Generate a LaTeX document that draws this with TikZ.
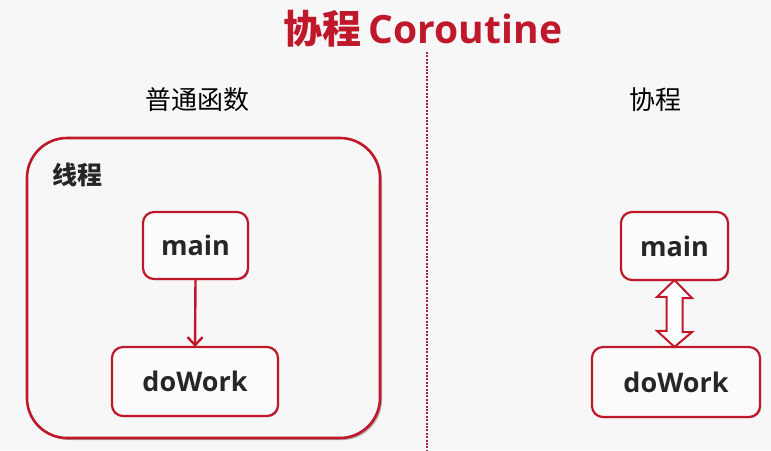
\documentclass[tikz,border=0pt]{standalone}
\usepackage{fontspec}
\newfontfamily\cjk{Noto Sans CJK SC}
\newfontfamily\lat{Open Sans}
\usetikzlibrary{shadows,arrows.meta}
\definecolor{bg}{HTML}{F7F7F7}
\definecolor{myred}{HTML}{C0182B}
\definecolor{dotred}{HTML}{A02336}
\definecolor{ink}{HTML}{262626}
\tikzset{
  box/.style={draw=myred, line width=2.2pt, fill=white!60!bg, rounded corners=11pt,
    inner sep=0pt, font=\lat\bfseries\fontsize{27}{30}\selectfont, text=ink,
    drop shadow={shadow xshift=1.2pt, shadow yshift=-1.2pt, opacity=0.3, fill=black}},
  bigbox/.style={draw=myred, line width=2.6pt, fill=bg, rounded corners=40pt, inner sep=0pt,
    drop shadow={shadow xshift=2pt, shadow yshift=-2pt, opacity=0.3, fill=black}},
  subtitle/.style={font=\cjk\fontsize{26}{30}\selectfont, text=black},
  ttl/.style={font=\bfseries\fontsize{39}{44}\selectfont, text=myred},
  divider/.style={draw=dotred, line width=2.5pt, dash pattern=on 2pt off 1.4pt}
}
\begin{document}
\begin{tikzpicture}[x=1pt,y=-1pt]
\useasboundingbox[fill=bg] (0,0) rectangle (771,450);
\node[ttl] (title) at (423,29) {{\cjk 协程}\hspace{7pt}{\lat Coroutine}};
\coordinate (dtop) at (427,52);
\coordinate (dbot) at (427,452);
\draw[divider] (dtop) -- (dbot);
\node[subtitle] (s1) at (197,100) {普通函数};
\node[subtitle] (s2) at (655,100) {协程};
% left
\node[bigbox, minimum width=353pt, minimum height=300pt] (thread) at (203.5,288) {};
\node[font=\cjk\bfseries\fontsize{25}{28}\selectfont, text=ink, anchor=west] (tl) at (49,175) {线程};
\node[box, minimum width=105pt, minimum height=67pt] (m1) at (195.5,245.5) {main};
\node[box, minimum width=166pt, minimum height=69pt] (d1) at (195,381.5) {doWork};
\draw[myred, line width=2.4pt, -{Straight Barb[length=8pt,width=15pt,line width=2.4pt]}] (m1.south) -- ([yshift=-1pt]d1.north);
% right
\node[box, minimum width=107pt, minimum height=68pt] (m2) at (674.5,246) {main};
\node[box, minimum width=168pt, minimum height=70pt] (d2) at (676,382) {doWork};
\draw[myred, line width=2pt, fill=white, line join=miter]
  ([yshift=1pt]m2.south) -- ++(17.5,18) -- ++(-9.5,0) -- ++(0,34) -- ++(9.5,0)
  -- ([yshift=-1pt]d2.north -| m2.south) -- ++(-17.5,-16)
  -- ++(9.5,0) -- ++(0,-34) -- ++(-9.5,0) -- cycle;
\end{tikzpicture}
\end{document}
